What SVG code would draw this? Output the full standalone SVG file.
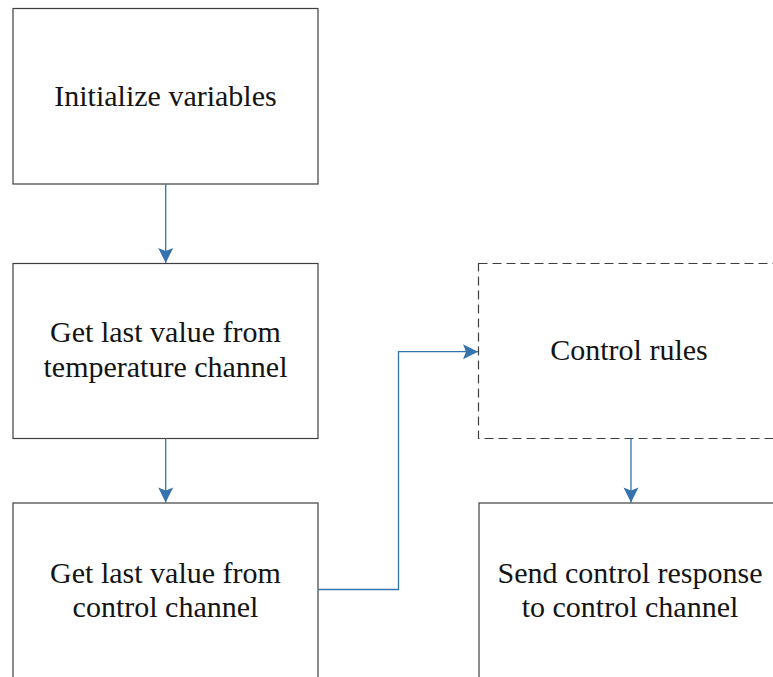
<svg xmlns="http://www.w3.org/2000/svg" width="773" height="677" viewBox="0 0 773 677">
<style>
.box{fill:#fff;stroke:#3f3f3f;stroke-width:1.2}
.dash{stroke-dasharray:9 5}
.lbl{font-family:'Liberation Serif','Times New Roman',serif;font-size:30px;fill:#141414;text-anchor:middle}
.con{fill:none;stroke:#3473ad;stroke-width:1.3}
</style>
<defs>
<marker id="ah" markerUnits="userSpaceOnUse" viewBox="-16 -8 17 16" refX="0" refY="0" markerWidth="17" markerHeight="16" orient="auto">
<path d="M0,0 L-15,-7.5 L-12,0 L-15,7.5 Z" fill="#3473ad"/>
</marker>
</defs>
<rect width="773" height="677" fill="#fff"/>
<g id="n1"><rect class="box" x="13" y="8.5" width="305" height="175.5"/><text class="lbl" x="165.5" y="106">Initialize variables</text></g>
<g id="n2"><rect class="box" x="13" y="263.5" width="305" height="175"/><text class="lbl" x="165.5" y="342">Get last value from</text><text class="lbl" x="165.5" y="377">temperature channel</text></g>
<g id="n3"><rect class="box" x="13" y="503" width="305" height="190"/><text class="lbl" x="165.5" y="583">Get last value from</text><text class="lbl" x="165.5" y="617">control channel</text></g>
<g id="n4"><rect class="box dash" x="478.5" y="263.5" width="305" height="175"/><text class="lbl" x="629" y="360">Control rules</text></g>
<g id="n5"><rect class="box" x="479" y="503" width="305" height="190"/><text class="lbl" x="630" y="583">Send control response</text><text class="lbl" x="630" y="617">to control channel</text></g>
<g id="connectors">
<path class="con" d="M165.7,184 V263" marker-end="url(#ah)"/>
<path class="con" d="M165.7,438.5 V502.5" marker-end="url(#ah)"/>
<path class="con" d="M318,589.5 H398.5 V351.7 H478" marker-end="url(#ah)"/>
<path class="con" d="M631,438.5 V502.5" marker-end="url(#ah)"/>
</g>
</svg>
